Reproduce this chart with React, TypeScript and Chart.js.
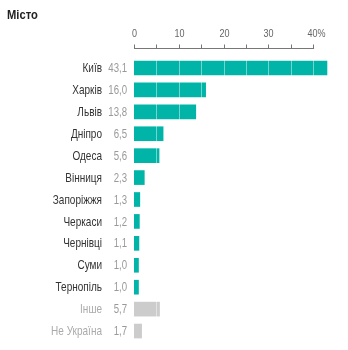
import React, { useEffect, useRef } from "react";
import { Chart, registerables } from "chart.js";

Chart.register(...registerables);

const cities = ["Київ", "Харків", "Львів", "Дніпро", "Одеса", "Вінниця", "Запоріжжя", "Черкаси", "Чернівці", "Суми", "Тернопіль", "Інше", "Не Україна"];
const shares = [43.1, 16.0, 13.8, 6.5, 5.6, 2.3, 1.3, 1.2, 1.1, 1.0, 1.0, 5.7, 1.7];
const isOther = [false, false, false, false, false, false, false, false, false, false, false, true, true];
const axisTicks = [0, 5, 10, 15, 20, 25, 30, 35, 40];
const axisLabels = ["0", "", "10", "", "20", "", "30", "", "40%"];
const titleText = "Місто";

const FONT = '"Liberation Sans", Arial, sans-serif';

function drawText(ctx: any, text: string, x: number, y: number, align: string, sx: number) {
  ctx.save();
  ctx.translate(x, y);
  ctx.scale(sx, 1);
  ctx.textAlign = align;
  ctx.textBaseline = "middle";
  ctx.fillText(text, 0, 0);
  ctx.restore();
}

const overlayPlugin = {
  id: "overlay",
  afterDatasetsDraw(chart: any) {
    const ctx = chart.ctx;
    const x = chart.scales.x;
    const y = chart.scales.y;
    const area = chart.chartArea;
    ctx.save();
    // white grid lines over bars
    ctx.strokeStyle = "rgba(255,255,255,0.45)";
    ctx.lineWidth = 1;
    axisTicks.forEach((t) => {
      if (t === 0) return;
      const px = Math.round(x.getPixelForValue(t)) + 0.5;
      ctx.beginPath();
      ctx.moveTo(px, area.top);
      ctx.lineTo(px, area.bottom);
      ctx.stroke();
    });
    // title
    ctx.fillStyle = "#222";
    ctx.font = "bold 13px " + FONT;
    drawText(ctx, titleText, 7, 15.5, "left", 0.86);
    // top axis
    const axisY = 48.5;
    ctx.strokeStyle = "#777";
    ctx.beginPath();
    ctx.moveTo(x.getPixelForValue(0), axisY);
    ctx.lineTo(x.getPixelForValue(40) + 1, axisY);
    ctx.stroke();
    ctx.fillStyle = "#666";
    ctx.font = "11px " + FONT;
    axisTicks.forEach((t, i) => {
      const px = Math.round(x.getPixelForValue(t)) + 0.5;
      ctx.beginPath();
      ctx.moveTo(px, axisY - 4);
      ctx.lineTo(px, axisY);
      ctx.stroke();
      if (axisLabels[i]) {
        const off = i === axisTicks.length - 1 ? 3 : 0;
        drawText(ctx, axisLabels[i], px + off, 34, "center", 0.82);
      }
    });
    // category names and values
    shares.forEach((v, i) => {
      const py = y.getPixelForValue(i) + 0.5;
      ctx.font = "13px " + FONT;
      ctx.fillStyle = isOther[i] ? "#aaa" : "#333";
      drawText(ctx, cities[i], area.left - 32, py, "right", 0.77);
      ctx.fillStyle = "#999";
      drawText(ctx, v.toFixed(1).replace(".", ","), area.left - 7, py, "right", 0.74);
    });
    ctx.restore();
  },
};

export default function App() {
  const ref = useRef<HTMLCanvasElement | null>(null);
  useEffect(() => {
    if (!ref.current) return;
    const chart = new Chart(ref.current, {
      type: "bar",
      data: {
        labels: cities,
        datasets: [
          {
            data: shares,
            backgroundColor: isOther.map((o) => (o ? "#cccccc" : "#00b5a7")),
            barThickness: 14,
          },
        ],
      },
      options: {
        indexAxis: "y",
        animation: false,
        responsive: true,
        maintainAspectRatio: false,
        layout: { padding: { left: 134, right: 17, bottom: 8, top: 57 } },
        plugins: {
          legend: { display: false },
          tooltip: { enabled: false },
          title: { display: false },
        },
        scales: {
          x: { display: false, min: 0, max: 44 },
          y: { display: false },
        },
      },
      plugins: [overlayPlugin],
    });
    return () => chart.destroy();
  }, []);
  return (
    <div style={{ position: "absolute", left: 0, top: 0, width: 348, height: 350, background: "#fff" }}>
      <canvas ref={ref} />
    </div>
  );
}
